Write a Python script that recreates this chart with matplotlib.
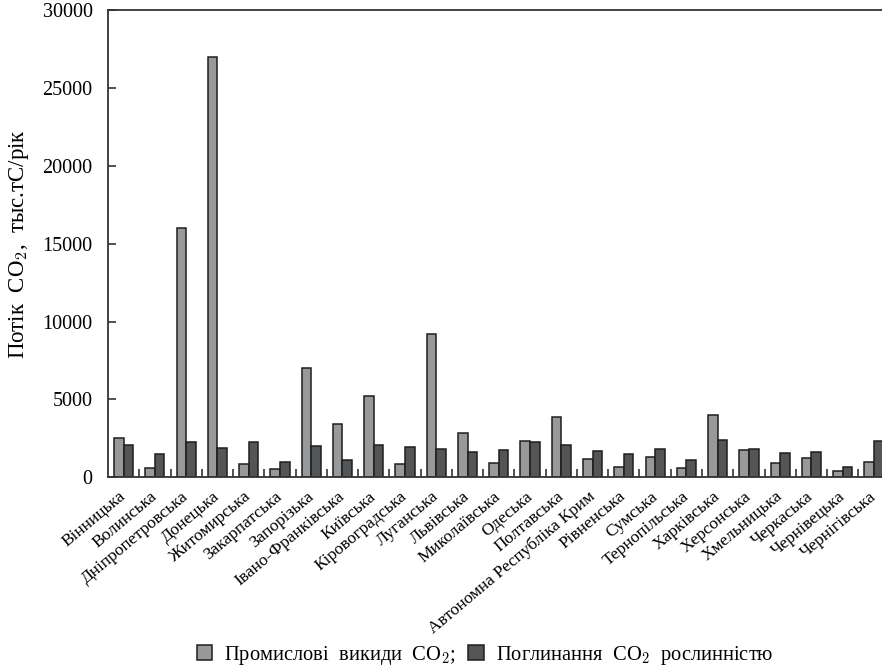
import matplotlib
matplotlib.use("Agg")
import matplotlib.pyplot as plt
import matplotlib.transforms as mtransforms
import numpy as np
from matplotlib.patches import Patch

plt.rcParams['font.family'] = ['Liberation Serif', 'DejaVu Serif']
plt.rcParams['mathtext.fontset'] = 'cm'

regions = ["Вінницька", "Волинська", "Дніпропетровська", "Донецька", "Житомирська",
           "Закарпатська", "Запорізька", "Івано-Франківська", "Київська", "Кіровоградська",
           "Луганська", "Львівська", "Миколаївська", "Одеська", "Полтавська",
           "Автономна Республіка Крим", "Рівненська", "Сумська", "Тернопільська",
           "Харківська", "Херсонська", "Хмельницька", "Черкаська", "Чернівецька",
           "Чернігівська"]

industrial = [2540, 600, 16000, 27000, 850, 510, 7000, 3420, 5210, 870,
              9200, 2820, 940, 2330, 3880, 1190, 680, 1300, 600, 4010,
              1750, 920, 1260, 420, 960]

absorption = [2050, 1490, 2280, 1860, 2280, 1000, 2000, 1110, 2050, 1920,
              1810, 1640, 1770, 2280, 2070, 1690, 1470, 1810, 1110, 2370,
              1830, 1580, 1600, 640, 2350]

yticks = [0, 5000, 10000, 15000, 20000, 25000, 30000]

c_ind = '#98999b'
c_abs = '#545557'
edge = '#1e1e1e'

fig = plt.figure(figsize=(8.82, 6.72), dpi=100)
ax = fig.add_axes([108/882, (672-477.3)/672, 781.6/882, 467.3/672])

x = np.arange(len(regions))
w = 0.307
ax.bar(x - w/2, industrial, width=w, color=c_ind, edgecolor=edge, linewidth=1.1)
ax.bar(x + w/2, absorption, width=w, color=c_abs, edgecolor=edge, linewidth=1.1)

ax.set_xlim(-0.5, len(regions) - 0.5)
ax.set_ylim(0, 30000)
ax.set_yticks(yticks)
ax.set_yticklabels([str(v) for v in yticks], fontsize=14.5)
ax.tick_params(axis='y', direction='in', length=6, width=1.2, color='#333333', pad=11)

ax.set_xticks(x)
ax.set_xticklabels(regions, rotation=40, ha='right', rotation_mode='anchor', fontsize=12.5)
ax.tick_params(axis='x', which='major', length=0, pad=8)
offset = mtransforms.ScaledTranslation(-5/100, 0, fig.dpi_scale_trans)
for lbl in ax.get_xticklabels():
    lbl.set_transform(lbl.get_transform() + offset)
ax.set_xticks(np.arange(len(regions)) + 0.5, minor=True)
ax.tick_params(axis='x', which='minor', direction='in', length=6, width=1.2, color='#333333')

for s in ['left', 'bottom', 'top']:
    ax.spines[s].set_color('#333333')
    ax.spines[s].set_linewidth(1.3)
ax.spines['right'].set_visible(False)

ax.set_ylabel('Потік  CO$_2$,  тыс.тС/рік', fontsize=16.5, labelpad=8)

handles = [Patch(facecolor=c_ind, edgecolor=edge, linewidth=1.1),
           Patch(facecolor=c_abs, edgecolor=edge, linewidth=1.1)]
fig.legend(handles, ['Промислові  викиди  CO$_2$;', 'Поглинання  CO$_2$  рослинністю'],
           loc='lower center', bbox_to_anchor=(0.55, -0.02), ncol=2, frameon=False,
           fontsize=14.8, handlelength=0.75, handleheight=0.75, handletextpad=0.6,
           columnspacing=0.6)

fig.savefig('out.png', dpi=100)
